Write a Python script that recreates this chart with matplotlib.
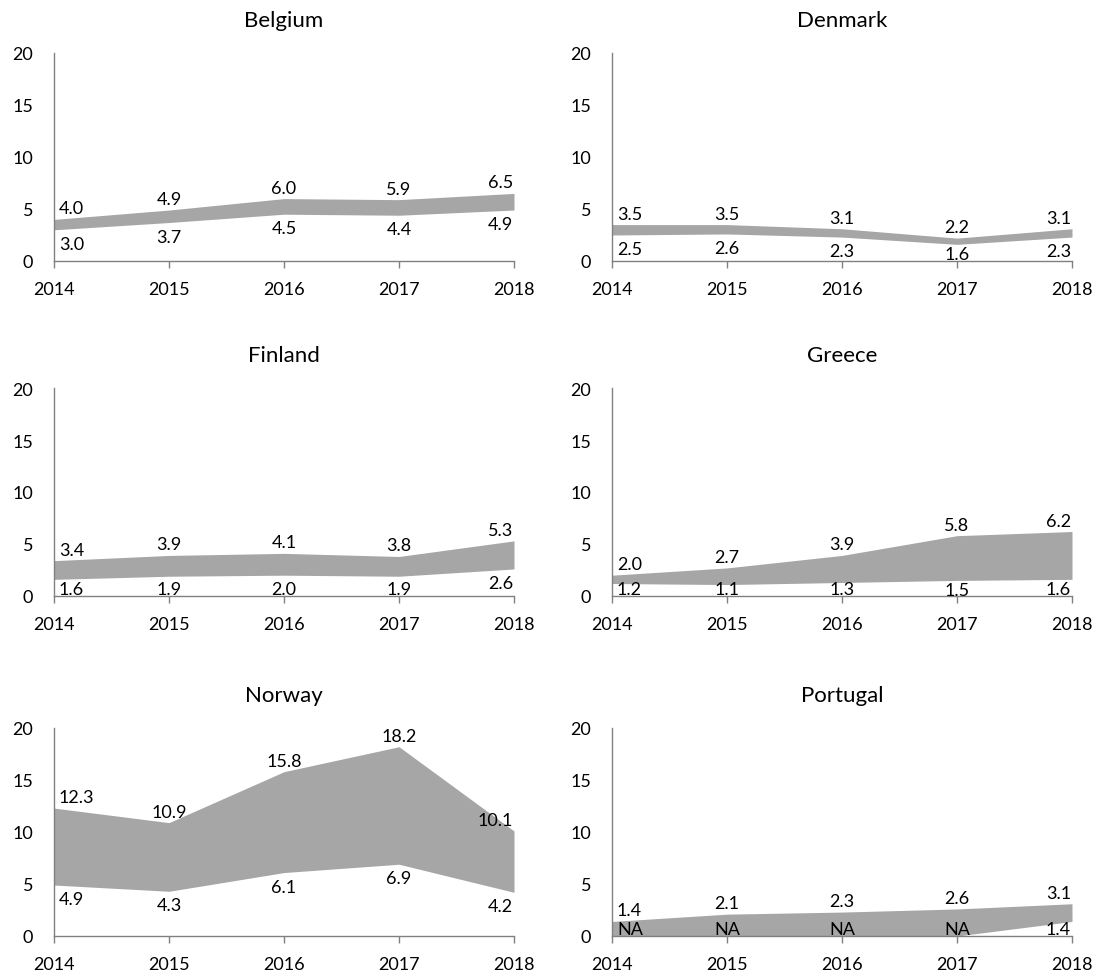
import matplotlib
matplotlib.use("Agg")
import matplotlib.pyplot as plt

plt.rcParams['font.family'] = ['Lato', 'DejaVu Sans']

years = [2014, 2015, 2016, 2017, 2018]
countries = ["Belgium", "Denmark", "Finland", "Greece", "Norway", "Portugal"]

belgium_low = [3.0, 3.7, 4.5, 4.4, 4.9]
belgium_high = [4.0, 4.9, 6.0, 5.9, 6.5]
denmark_low = [2.5, 2.6, 2.3, 1.6, 2.3]
denmark_high = [3.5, 3.5, 3.1, 2.2, 3.1]
finland_low = [1.6, 1.9, 2.0, 1.9, 2.6]
finland_high = [3.4, 3.9, 4.1, 3.8, 5.3]
greece_low = [1.2, 1.1, 1.3, 1.5, 1.6]
greece_high = [2.0, 2.7, 3.9, 5.8, 6.2]
norway_low = [4.9, 4.3, 6.1, 6.9, 4.2]
norway_high = [12.3, 10.9, 15.8, 18.2, 10.1]
portugal_low = [None, None, None, None, 1.4]
portugal_high = [1.4, 2.1, 2.3, 2.6, 3.1]

lows = [belgium_low, denmark_low, finland_low, greece_low, norway_low, portugal_low]
highs = [belgium_high, denmark_high, finland_high, greece_high, norway_high, portugal_high]

W, H = 1100, 978
fig = plt.figure(figsize=(W / 100, H / 100), dpi=100)

col_left = [54, 612]
ax_w = 460
row_bottom = [262, 597, 937]   # pixel y of the zero line
ax_h = 208

FILL = "#a6a6a6"
SPINE = "#808080"
FS = 13
TITLE_FS = 16

cap_px = 0.72 * FS * 100 / 72   # digit height in pixels
gap = 6

for i, name in enumerate(countries):
    r, c = divmod(i, 2)
    left = col_left[c]
    bottom = row_bottom[r]
    ax = fig.add_axes([left / W, (H - bottom) / H, ax_w / W, ax_h / H])
    lo_raw = lows[i]
    hi = highs[i]
    lo = [v if v is not None else 0.0 for v in lo_raw]

    ax.fill_between(years, lo, hi, color=FILL, linewidth=0)
    ax.set_xlim(2014, 2018)
    ax.set_ylim(0, 20)
    ax.set_yticks([0, 5, 10, 15, 20])
    ax.set_xticks(years)
    for s in ("top", "right"):
        ax.spines[s].set_visible(False)
    for s in ("left", "bottom"):
        ax.spines[s].set_color(SPINE)
        ax.spines[s].set_linewidth(1.0)
    ax.tick_params(axis="y", length=0, pad=15, labelsize=FS, colors="#000000")
    ax.tick_params(axis="x", length=5, width=1.0, color=SPINE, pad=9.5,
                   labelsize=FS, labelcolor="#000000", direction="out")

    fig.text((left + ax_w / 2) / W, 1 - (bottom - ax_h - 33) / H, name,
             ha="center", va="center", fontsize=TITLE_FS)

    ppu = ax_h / 20.0          # pixels per data unit
    for j, x in enumerate(years):
        if j == 0:
            ha, dx = "left", 5
        elif j == len(years) - 1:
            ha, dx = "right", -1
        else:
            ha, dx = "center", 0
        # upper label sits just above the band
        ax.annotate(f"{hi[j]:.1f}", (x, hi[j]), xytext=(dx, gap),
                    textcoords="offset pixels", ha=ha, va="baseline",
                    fontsize=FS, color="#000000", annotation_clip=False)
        # lower label sits just below the band, kept inside the plot area
        text = "NA" if lo_raw[j] is None else f"{lo_raw[j]:.1f}"
        y_pix = lo[j] * ppu
        base = max(y_pix - gap - cap_px, 1.5)
        ax.annotate(text, (x, lo[j]), xytext=(dx, base - y_pix),
                    textcoords="offset pixels", ha=ha, va="baseline",
                    fontsize=FS, color="#000000", annotation_clip=False)

fig.savefig("out.png", dpi=100, facecolor="white")
